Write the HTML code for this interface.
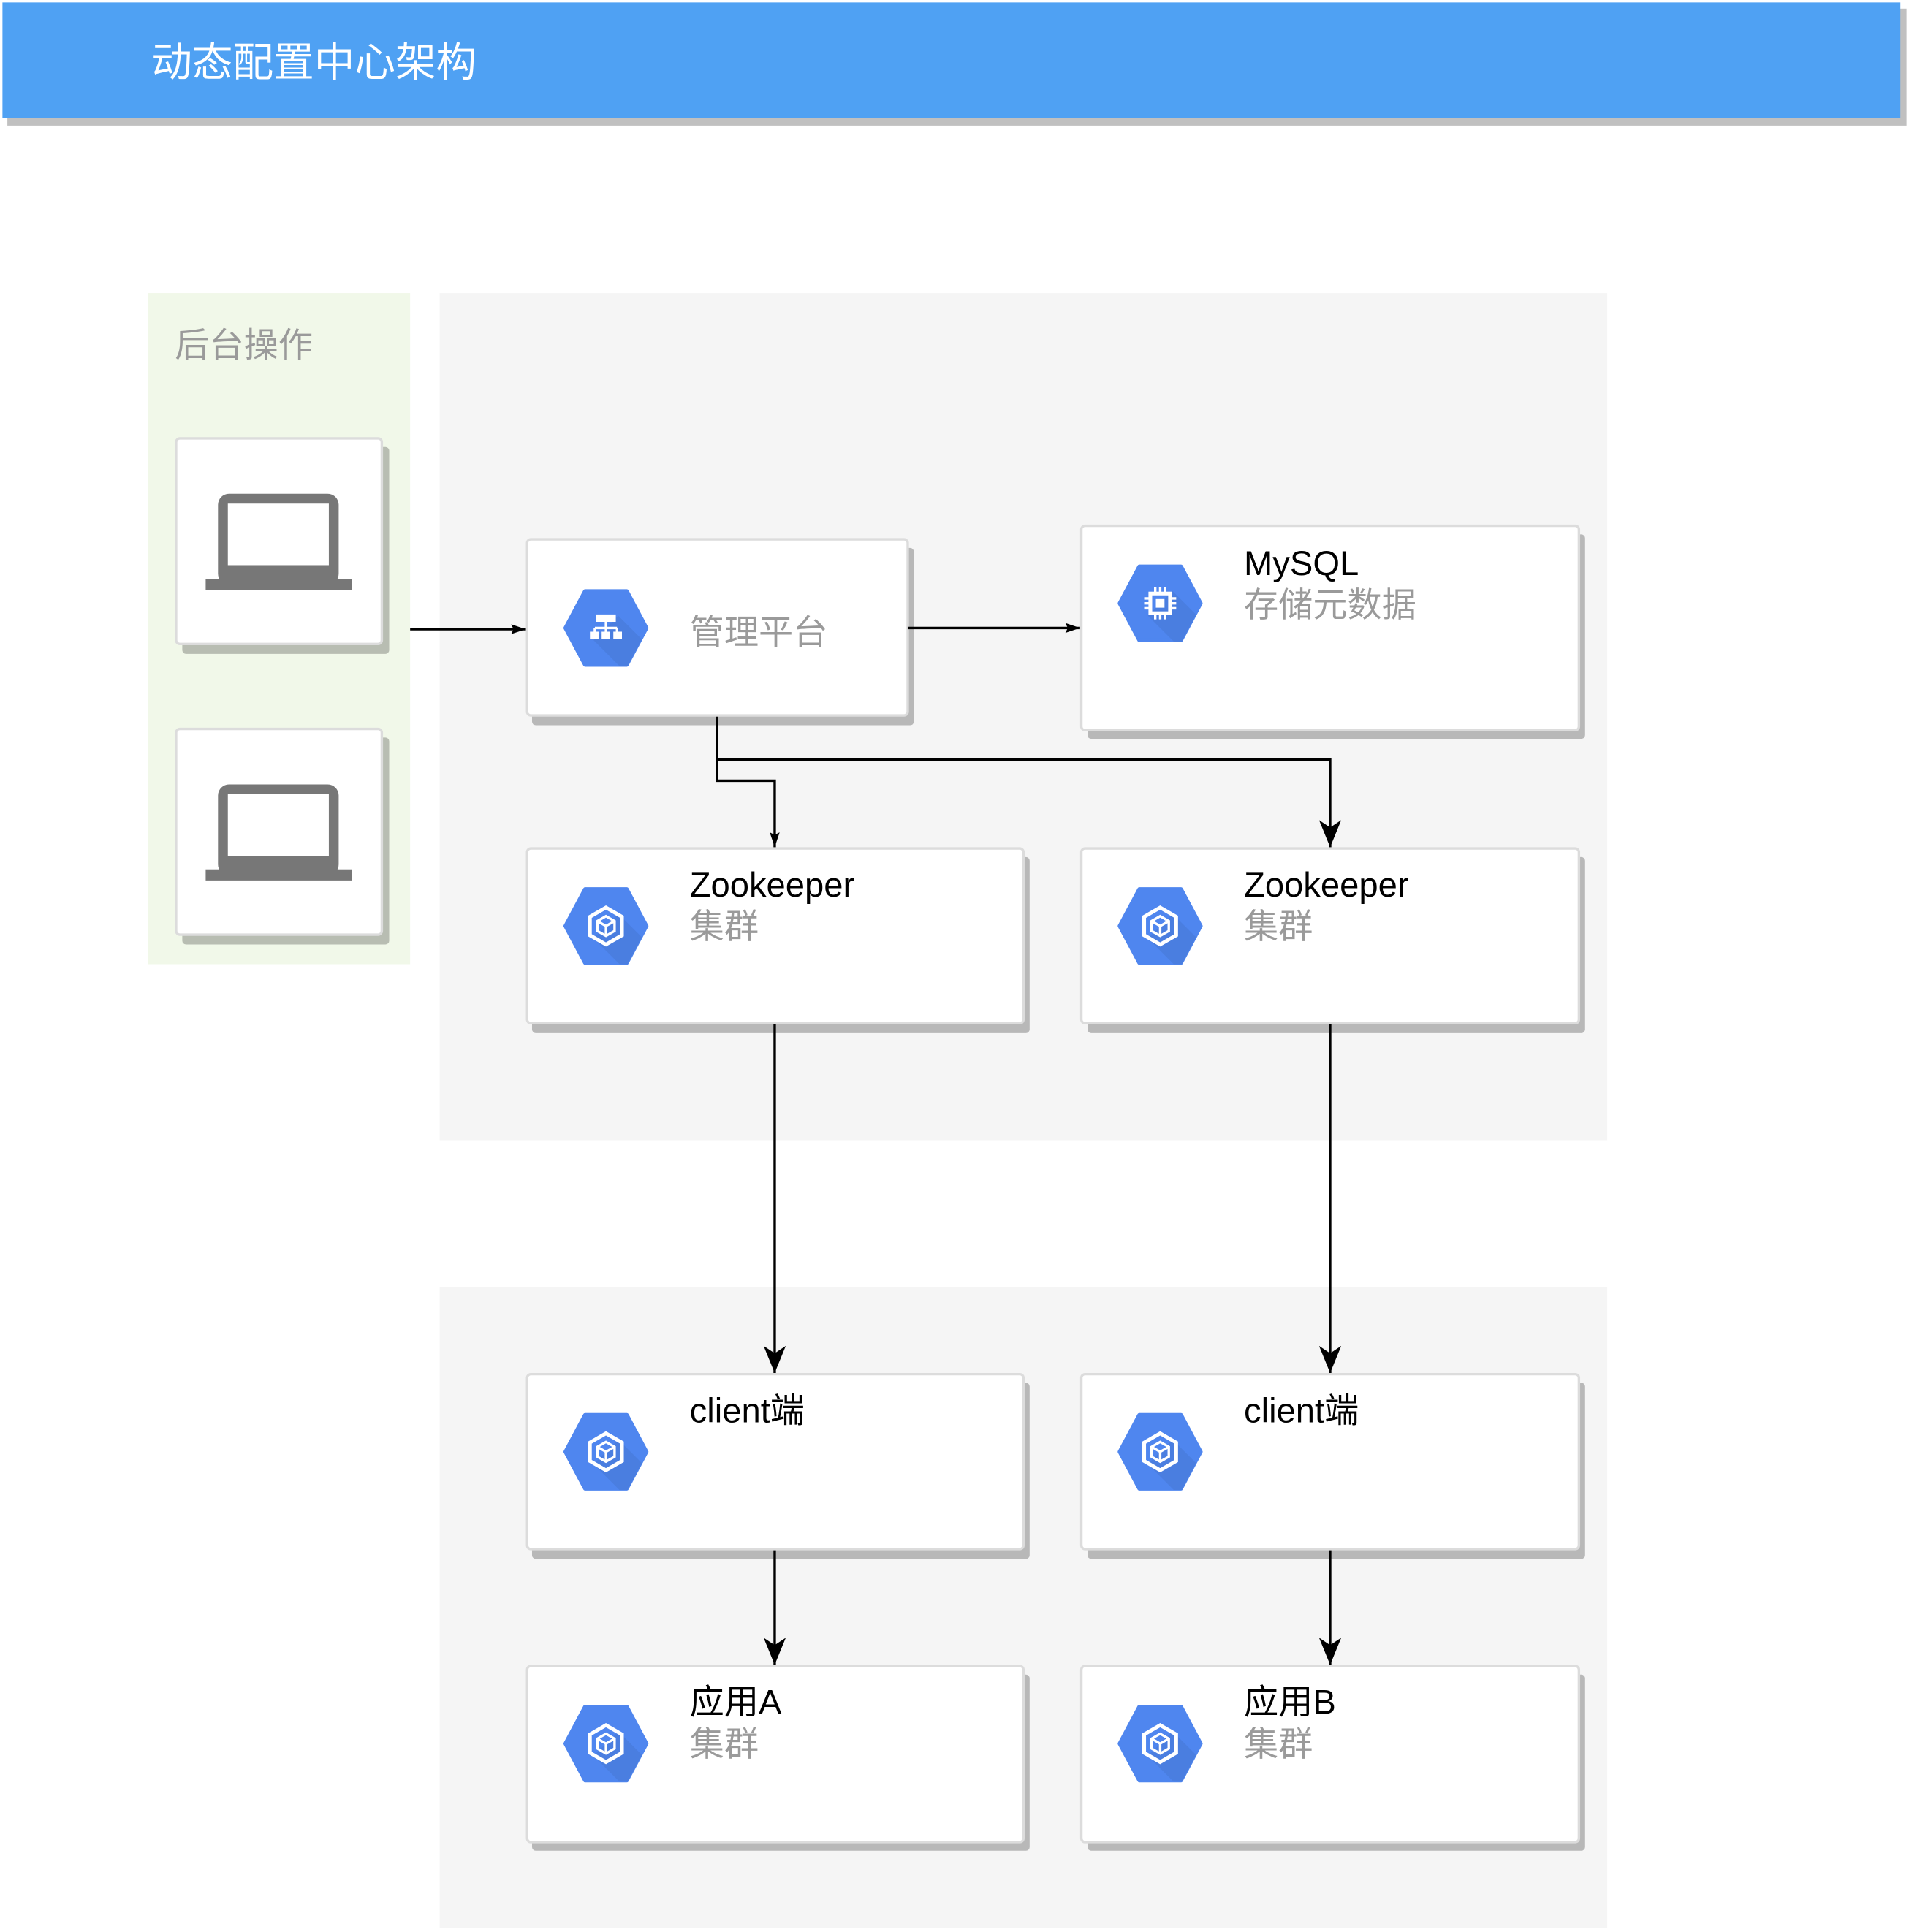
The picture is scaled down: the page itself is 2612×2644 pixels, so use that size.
<!DOCTYPE html>
<html><head><meta charset="utf-8">
<style>
html,body{margin:0;padding:0;background:#fff;}
svg{display:block;}
text{font-family:"Liberation Sans","Noto Sans CJK SC",sans-serif;}
</style></head>
<body>
<svg width="2612" height="2644" viewBox="0 0 1550 1569" preserveAspectRatio="none" xmlns="http://www.w3.org/2000/svg">
<defs>
  <marker id="a1" viewBox="0 0 12 10" refX="12" refY="5" markerWidth="12" markerHeight="10" markerUnits="userSpaceOnUse" orient="auto">
    <path d="M0,1 L12,5 L0,9 L2,5 Z" fill="#000"/>
  </marker>
  <marker id="a2" viewBox="0 0 22 18" refX="22" refY="9" markerWidth="22" markerHeight="18" markerUnits="userSpaceOnUse" orient="auto">
    <path d="M0,0 L22,9 L0,18 L6,9 Z" fill="#000"/>
  </marker>
  <clipPath id="hc">
    <path d="M-34,0 L-17.5,-31 L17.5,-31 L34,0 L17.5,31 L-17.5,31 Z"/>
  </clipPath>
  <g id="hex">
    <path d="M-33,0 L-17,-30 L17,-30 L33,0 L17,30 L-17,30 Z" fill="#4f86ef" stroke="#4f86ef" stroke-width="3" stroke-linejoin="round"/>
    <g clip-path="url(#hc)">
      <path d="M-10,10 L10,-10 L50,30 L30,50 Z" fill="#4a7ee0"/>
    </g>
  </g>
  <g id="cube">
    <use href="#hex"/>
    <path d="M0,-15 L13,-7.5 L13,7.5 L0,15 L-13,7.5 L-13,-7.5 Z" fill="none" stroke="#fff" stroke-width="3"/>
    <path d="M0,-8 L7,-4 L7,4 L0,8 L-7,4 L-7,-4 Z" fill="none" stroke="#fff" stroke-width="2"/>
    <path d="M-7,-4 L0,0 L7,-4 M0,0 L0,8" fill="none" stroke="#fff" stroke-width="2"/>
  </g>
</defs>

<rect x="6" y="7" width="1542" height="95" fill="#c0c0c0"/>
<rect x="2" y="2" width="1541" height="94" fill="#4fa1f3"/>
<text x="123" y="62" font-size="33" fill="#fff">动态配置中心架构</text>

<rect x="120" y="238" width="213" height="545" fill="#f1f8e9"/>
<text x="142" y="290" font-size="28" fill="#9a9a9a">后台操作</text>
<rect x="357" y="238" width="948" height="688" fill="#f5f5f5"/>
<rect x="357" y="1045" width="948" height="521" fill="#f5f5f5"/>

<g>
  <rect x="148" y="363" width="168" height="168" rx="3" fill="#b8bdb2"/>
  <rect x="143" y="356" width="167" height="167" rx="3" fill="#fff" stroke="#dcdcdc" stroke-width="2"/>
  <rect x="177" y="401" width="98" height="74" rx="9" fill="#777"/>
  <rect x="185" y="409" width="82" height="50" fill="#fff"/>
  <rect x="167" y="470" width="119" height="9" fill="#777"/>
</g>
<g>
  <rect x="148" y="599" width="168" height="168" rx="3" fill="#b8bdb2"/>
  <rect x="143" y="592" width="167" height="167" rx="3" fill="#fff" stroke="#dcdcdc" stroke-width="2"/>
  <rect x="177" y="637" width="98" height="74" rx="9" fill="#777"/>
  <rect x="185" y="645" width="82" height="50" fill="#fff"/>
  <rect x="167" y="706" width="119" height="9" fill="#777"/>
</g>

<g fill="#b8b8b8">
  <rect x="432" y="445" width="310" height="144" rx="3"/>
  <rect x="883" y="434" width="404" height="166" rx="3"/>
  <rect x="432" y="696" width="404" height="143" rx="3"/>
  <rect x="883" y="696" width="404" height="143" rx="3"/>
  <rect x="432" y="1123" width="404" height="143" rx="3"/>
  <rect x="883" y="1123" width="404" height="143" rx="3"/>
  <rect x="432" y="1360" width="404" height="143" rx="3"/>
  <rect x="883" y="1360" width="404" height="143" rx="3"/>
</g>
<g fill="#fff" stroke="#dcdcdc" stroke-width="2">
  <rect x="428" y="438" width="309" height="143" rx="3"/>
  <rect x="878" y="427" width="404" height="166" rx="3"/>
  <rect x="428" y="689" width="403" height="142" rx="3"/>
  <rect x="878" y="689" width="404" height="142" rx="3"/>
  <rect x="428" y="1116" width="403" height="142" rx="3"/>
  <rect x="878" y="1116" width="404" height="142" rx="3"/>
  <rect x="428" y="1353" width="403" height="143" rx="3"/>
  <rect x="878" y="1353" width="404" height="143" rx="3"/>
</g>

<g transform="translate(492,510)">
  <use href="#hex"/>
  <rect x="-8" y="-11" width="16" height="6" fill="#fff"/>
  <path d="M0,-5 V2 M-9,0 H9 M-9,0 V3 M0,0 V3 M9,0 V3" stroke="#fff" stroke-width="2" fill="none"/>
  <rect x="-13" y="3" width="7" height="6" fill="#fff"/>
  <rect x="-3.5" y="3" width="7" height="6" fill="#fff"/>
  <rect x="6" y="3" width="7" height="6" fill="#fff"/>
</g>
<text x="560" y="523" font-size="28" fill="#9a9a9a">管理平台</text>

<g transform="translate(942,490)">
  <use href="#hex"/>
  <rect x="-8" y="-8" width="16" height="16" fill="none" stroke="#fff" stroke-width="3"/>
  <rect x="-3.5" y="-3.5" width="7" height="7" fill="#fff"/>
  <path d="M-4,-13 V-9 M0,-13 V-9 M4,-13 V-9 M-4,9 V13 M0,9 V13 M4,9 V13 M-13,-4 H-9 M-13,0 H-9 M-13,4 H-9 M9,-4 H13 M9,0 H13 M9,4 H13" stroke="#fff" stroke-width="2"/>
</g>
<text x="1010" y="467" font-size="28" fill="#000">MySQL</text>
<text x="1010" y="501" font-size="28" fill="#9a9a9a">存储元数据</text>

<use href="#cube" x="492" y="752"/>
<text x="560" y="728" font-size="28" fill="#000">Zookeeper</text>
<text x="560" y="762" font-size="28" fill="#9a9a9a">集群</text>
<use href="#cube" x="942" y="752"/>
<text x="1010" y="728" font-size="28" fill="#000">Zookeeper</text>
<text x="1010" y="762" font-size="28" fill="#9a9a9a">集群</text>

<use href="#cube" x="492" y="1179"/>
<text x="560" y="1155" font-size="28" fill="#000">client端</text>
<use href="#cube" x="942" y="1179"/>
<text x="1010" y="1155" font-size="28" fill="#000">client端</text>

<use href="#cube" x="492" y="1416"/>
<text x="560" y="1392" font-size="28" fill="#000">应用A</text>
<text x="560" y="1426" font-size="28" fill="#9a9a9a">集群</text>
<use href="#cube" x="942" y="1416"/>
<text x="1010" y="1392" font-size="28" fill="#000">应用B</text>
<text x="1010" y="1426" font-size="28" fill="#9a9a9a">集群</text>

<g fill="none" stroke="#000" stroke-width="2">
  <path d="M333,511 H427" marker-end="url(#a1)"/>
  <path d="M737,510 H877" marker-end="url(#a1)"/>
  <path d="M582,582 V634 H629 V688" marker-end="url(#a1)"/>
  <path d="M582,617 H1080 V688" marker-end="url(#a2)"/>
  <path d="M629,832 V1115" marker-end="url(#a2)"/>
  <path d="M1080,832 V1115" marker-end="url(#a2)"/>
  <path d="M629,1259 V1352" marker-end="url(#a2)"/>
  <path d="M1080,1259 V1352" marker-end="url(#a2)"/>
</g>
</svg>
</body></html>
